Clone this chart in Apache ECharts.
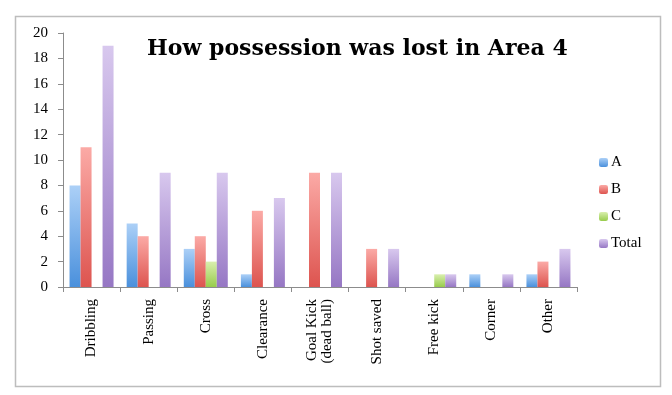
<!DOCTYPE html>
<html><head><meta charset="utf-8">
<script src="https://cdn.jsdelivr.net/npm/echarts@6/dist/echarts.min.js"></script>
<style>html,body{margin:0;padding:0;background:#fff;}#c{width:672px;height:395px;}</style>
</head><body><div id="c"></div>
<script>
const categories = ['Dribbling','Passing','Cross','Clearance','Goal Kick\n(dead ball)','Shot saved','Free kick','Corner','Other'];
const seriesA = [8,5,3,1,0,0,0,1,1];
const seriesB = [11,4,4,6,9,3,0,0,2];
const seriesC = [0,0,2,0,0,0,1,0,0];
const seriesTotal = [19,9,9,7,9,3,1,1,3];
const yTicks = [0,2,4,6,8,10,12,14,16,18,20];

function grad(top, bottom){
  return {type:'linear',x:0,y:0,x2:0,y2:1,colorStops:[{offset:0,color:top},{offset:1,color:bottom}]};
}
const serif = '"Liberation Serif", "DejaVu Serif", serif';
const chart = echarts.init(document.getElementById('c'));
chart.setOption({
  animation:false,
  title:{text:'How possession was lost in Area 4',left:142,top:33,
    textStyle:{fontFamily:'"DejaVu Serif", serif',fontWeight:'bold',fontSize:22,color:'#000'}},
  graphic:[{type:'rect',shape:{x:15.5,y:16.5,width:645,height:370},style:{fill:'none',stroke:'#bdbdbd',lineWidth:1.5},silent:true}],
  legend:{orient:'vertical',left:599,top:155,padding:0,itemWidth:9,itemHeight:9,itemGap:12,
    textStyle:{fontFamily:serif,fontSize:15,color:'#000',padding:[0,0,0,-2]},
    data:['A','B','C','Total']},
  grid:{left:63,right:95,top:33,bottom:108},
  xAxis:{type:'category',data:categories,
    axisLine:{lineStyle:{color:'#8c8c8c'}},
    axisTick:{show:true,length:5,lineStyle:{color:'#8c8c8c'}},
    axisLabel:{rotate:90,fontFamily:serif,fontSize:15,color:'#000',margin:12,lineHeight:15,interval:0,align:'right',verticalAlign:'middle'}},
  yAxis:{type:'value',min:0,max:20,interval:2,
    splitLine:{show:false},
    axisLine:{show:true,lineStyle:{color:'#8c8c8c'}},
    axisTick:{show:true,length:5,lineStyle:{color:'#8c8c8c'}},
    axisLabel:{fontFamily:serif,fontSize:15,color:'#000',margin:15,
      formatter:function(v){return yTicks.indexOf(v)>=0?String(v):'';}}},
  series:[
    {name:'A',type:'bar',data:seriesA,barWidth:11,barGap:'0%',itemStyle:{color:grad('#acd0f7','#4a90dc')}},
    {name:'B',type:'bar',data:seriesB,barWidth:11,barGap:'0%',itemStyle:{color:grad('#fbaaa6','#dd544f')}},
    {name:'C',type:'bar',data:seriesC,barWidth:11,barGap:'0%',itemStyle:{color:grad('#d9efae','#98cc4c')}},
    {name:'Total',type:'bar',data:seriesTotal,barWidth:11,barGap:'0%',itemStyle:{color:grad('#d8c8ee','#9677c4')}}
  ]
});
</script></body></html>
